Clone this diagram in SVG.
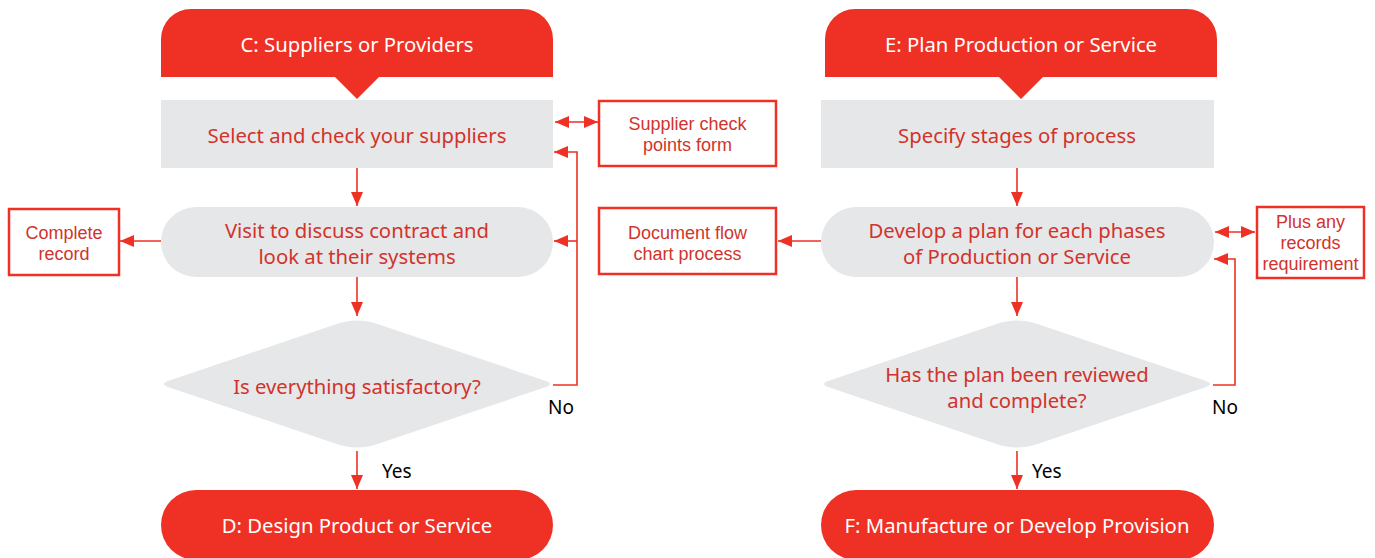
<svg xmlns="http://www.w3.org/2000/svg" width="1375" height="558" viewBox="0 0 1375 558">
<style>
.hdr{fill:#ee3124}
.gry{fill:#e6e7e8}
.box{fill:#fff;stroke:#ee3124;stroke-width:2.5}
.t{font-family:"Noto Sans","Open Sans",sans-serif;text-anchor:middle}
.w{fill:#fff;font-size:20.3px}
.r{fill:#d2332c;font-size:20.3px}
.s{fill:#d2332c;font-size:18px;font-family:"Liberation Sans",Arial,sans-serif}
.k{fill:#000;font-size:19px;font-family:"Noto Sans","Open Sans",sans-serif}
.ln{fill:none;stroke:#ee3124;stroke-width:1.6}
</style>
<defs>
<marker id="ah" viewBox="0 0 14 12" refX="14" refY="6" markerWidth="14" markerHeight="12" markerUnits="userSpaceOnUse" orient="auto-start-reverse">
<path d="M0,0 L14,6 L0,12 Z" fill="#ee3124"/>
</marker>
<path id="dia" d="M -22,-59.5 Q 0,-67.5 22,-59.5 L 189,-3 Q 197,0 189,3 L 22,59.5 Q 0,67.5 -22,59.5 L -189,3 Q -197,0 -189,-3 Z"/>
</defs>

<g id="connectors">
<line class="ln" x1="357" y1="168" x2="357" y2="206" marker-end="url(#ah)"/>
<line class="ln" x1="357" y1="277" x2="357" y2="316" marker-end="url(#ah)"/>
<line class="ln" x1="357" y1="451" x2="357" y2="489" marker-end="url(#ah)"/>
<line class="ln" x1="161" y1="241" x2="120" y2="241" marker-end="url(#ah)"/>
<line class="ln" x1="555" y1="122" x2="598" y2="122" marker-start="url(#ah)" marker-end="url(#ah)"/>
<polyline class="ln" points="553,385 577,385 577,152 554,152" marker-end="url(#ah)"/>
<line class="ln" x1="577" y1="241" x2="554" y2="241" marker-end="url(#ah)"/>

<line class="ln" x1="1017" y1="168" x2="1017" y2="206" marker-end="url(#ah)"/>
<line class="ln" x1="1017" y1="277" x2="1017" y2="316" marker-end="url(#ah)"/>
<line class="ln" x1="1017" y1="451" x2="1017" y2="489" marker-end="url(#ah)"/>
<line class="ln" x1="821" y1="241" x2="778" y2="241" marker-end="url(#ah)"/>
<line class="ln" x1="1215" y1="232" x2="1255" y2="232" marker-start="url(#ah)" marker-end="url(#ah)"/>
<polyline class="ln" points="1213,385 1235,385 1235,259 1214,259" marker-end="url(#ah)"/>
</g>

<g id="nodeC">
<path class="hdr" d="M161,77 V39 A30,30 0 0 1 191,9 H523 A30,30 0 0 1 553,39 V77 H379 L357,99 L335,77 Z"/>
<text class="t w" x="357" y="52">C: Suppliers or Providers</text>
</g>
<g id="nodeSelect">
<rect class="gry" x="161" y="100" width="392" height="68"/>
<text class="t r" x="357" y="143">Select and check your suppliers</text>
</g>
<g id="nodeVisit">
<rect class="gry" x="161" y="207" width="392" height="70" rx="35"/>
<text class="t r" x="357" y="238">Visit to discuss contract and</text>
<text class="t r" x="357" y="264">look at their systems</text>
</g>
<g id="nodeSatisfactory">
<use href="#dia" class="gry" x="357" y="384"/>
<text class="t r" x="357" y="394">Is everything satisfactory?</text>
</g>
<g id="nodeD">
<rect class="hdr" x="161" y="490" width="392" height="70" rx="35"/>
<text class="t w" x="357" y="533">D: Design Product or Service</text>
</g>
<g id="nodeComplete">
<rect class="box" x="9" y="209" width="110" height="66"/>
<text class="t s" x="64" y="239">Complete</text>
<text class="t s" x="64" y="260">record</text>
</g>
<g id="nodeSupplierForm">
<rect class="box" x="599" y="101" width="177" height="65"/>
<text class="t s" x="687.5" y="130">Supplier check</text>
<text class="t s" x="687.5" y="151">points form</text>
</g>
<text class="k" x="548" y="414">No</text>
<text class="k" x="382" y="478">Yes</text>

<g id="nodeE">
<path class="hdr" d="M825,77 V39 A30,30 0 0 1 855,9 H1187 A30,30 0 0 1 1217,39 V77 H1043 L1021,99 L999,77 Z"/>
<text class="t w" x="1021" y="52">E: Plan Production or Service</text>
</g>
<g id="nodeSpecify">
<rect class="gry" x="821" y="100" width="393" height="68"/>
<text class="t r" x="1017" y="143">Specify stages of process</text>
</g>
<g id="nodeDevelop">
<rect class="gry" x="821" y="207" width="393" height="70" rx="35"/>
<text class="t r" x="1017" y="238">Develop a plan for each phases</text>
<text class="t r" x="1017" y="264">of Production or Service</text>
</g>
<g id="nodeReviewed">
<use href="#dia" class="gry" x="1017" y="384"/>
<text class="t r" x="1017" y="382">Has the plan been reviewed</text>
<text class="t r" x="1017" y="408">and complete?</text>
</g>
<g id="nodeF">
<rect class="hdr" x="821" y="490" width="393" height="70" rx="35"/>
<text class="t w" x="1017" y="533">F: Manufacture or Develop Provision</text>
</g>
<g id="nodeDocument">
<rect class="box" x="599" y="208" width="177" height="66"/>
<text class="t s" x="687.5" y="239">Document flow</text>
<text class="t s" x="687.5" y="260">chart process</text>
</g>
<g id="nodeRecords">
<rect class="box" x="1257" y="207" width="107" height="71"/>
<text class="t s" x="1310.5" y="228">Plus any</text>
<text class="t s" x="1310.5" y="249">records</text>
<text class="t s" x="1310.5" y="270">requirement</text>
</g>
<text class="k" x="1212" y="414">No</text>
<text class="k" x="1032" y="478">Yes</text>
</svg>
